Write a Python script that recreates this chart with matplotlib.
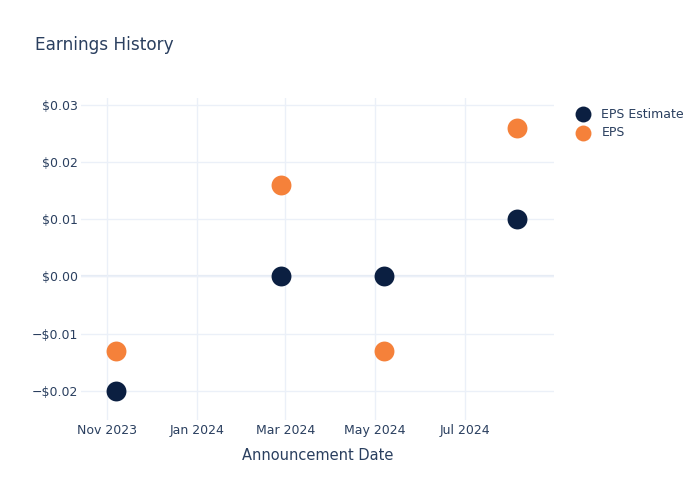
import matplotlib
matplotlib.use('Agg')
import matplotlib.pyplot as plt
import matplotlib.dates as mdates
from matplotlib.ticker import FuncFormatter
import pandas as pd

# data
dates = ['2023-11-07', '2024-02-27', '2024-05-07', '2024-08-06']
eps_estimate = [-0.02, 0.0, 0.0, 0.01]
eps_actual = [-0.013, 0.016, -0.013, 0.026]
yticks = [-0.02, -0.01, 0.0, 0.01, 0.02, 0.03]
xticks = ['2023-11-01', '2024-01-01', '2024-03-01', '2024-05-01', '2024-07-01']

text_color = '#2a3f5f'
grid_color = '#ebf0f8'

x = pd.to_datetime(dates)

fig = plt.figure(figsize=(7, 5), dpi=100)
ax = fig.add_axes([0.1157, 0.16, 0.676, 0.644])

ax.scatter(x, eps_estimate, s=205, color='#0b1f41', label='EPS Estimate', zorder=3, linewidths=0)
ax.scatter(x, eps_actual, s=205, color='#f5813a', label='EPS', zorder=3, linewidths=0)

ax.set_xlim(pd.Timestamp('2023-10-14'), pd.Timestamp('2024-08-31'))
ax.set_ylim(-0.0251, 0.0312)

ax.set_xticks(pd.to_datetime(xticks))
ax.xaxis.set_major_formatter(mdates.DateFormatter('%b %Y'))
ax.set_yticks(yticks)

def money(v, pos):
    if abs(v) < 1e-9:
        return '$0.00'
    s = '$%.2f' % abs(v)
    return ('\u2212' + s) if v < 0 else s

ax.yaxis.set_major_formatter(FuncFormatter(money))

ax.grid(True, color=grid_color, linewidth=1, zorder=0)
ax.axhline(0, color='#e6ecf5', linewidth=1.6, zorder=1)
for sp in ax.spines.values():
    sp.set_visible(False)
ax.tick_params(length=0, colors=text_color, labelsize=9)
ax.tick_params(axis='y', pad=2)
ax.tick_params(axis='x', pad=3)

ax.set_xlabel('Announcement Date', color=text_color, fontsize=10.5, labelpad=8)
fig.text(0.05, 0.911, 'Earnings History', color=text_color, fontsize=12.2, va='center')

leg = ax.legend(loc='upper left', bbox_to_anchor=(1.01, 1.005), frameon=False,
                fontsize=9, labelcolor=text_color, handletextpad=0.5,
                labelspacing=0.45, markerscale=0.8)

fig.savefig('out.png', dpi=100)
